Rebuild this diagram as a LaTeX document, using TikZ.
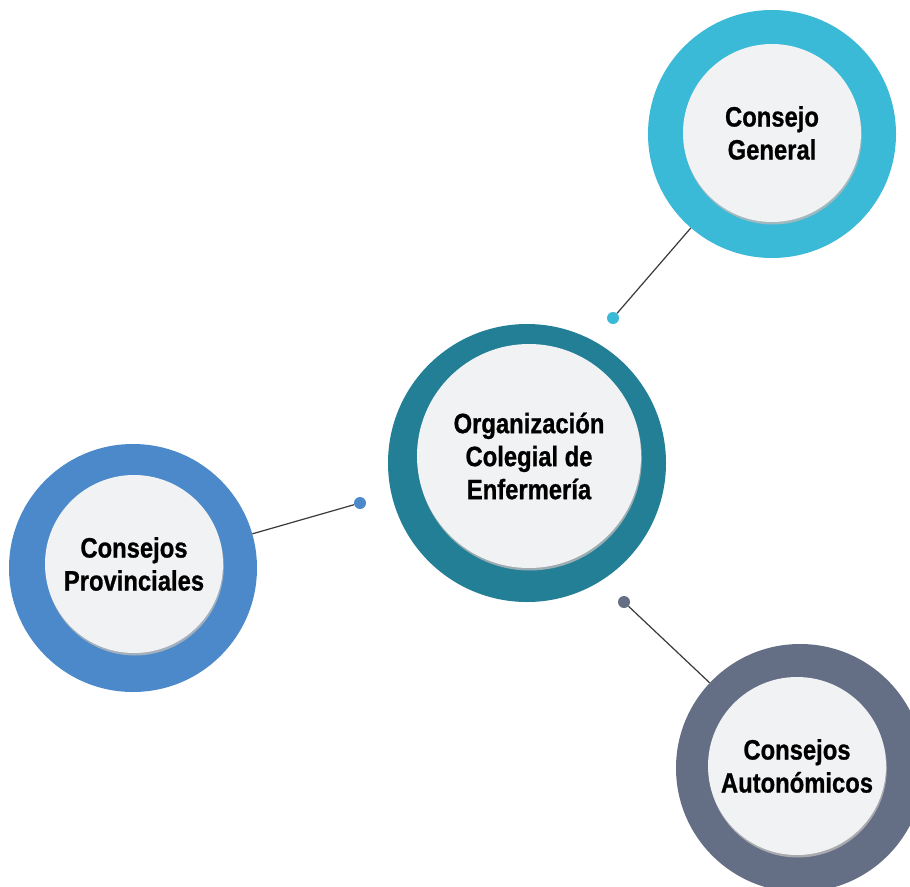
\documentclass[tikz,border=0pt]{standalone}
\usepackage{fontspec}
\setmainfont{Liberation Sans}[FakeStretch=0.85,BoldFeatures={FakeBold=0.8}]
\usetikzlibrary{shadows}
\definecolor{tealring}{HTML}{237F96}
\definecolor{skyring}{HTML}{3BBAD8}
\definecolor{bluering}{HTML}{4B89CA}
\definecolor{slatering}{HTML}{646E84}
\definecolor{coregray}{HTML}{F1F2F4}
\definecolor{linkgray}{HTML}{3A3A3A}

\begin{document}
\begin{tikzpicture}[x=1pt,y=-1pt,%line cap=round
  ring/.style={circle,minimum size=248pt,inner sep=0pt},
  core/.style={circle,fill=coregray,minimum size=178pt,inner sep=0pt,align=center,
    font=\fontsize{28}{33}\selectfont\bfseries,text=black,
    drop shadow={shadow xshift=0.8pt,shadow yshift=-2.5pt,opacity=0.8,fill=gray!55}},
  dot/.style={circle,minimum size=12pt,inner sep=0pt},
  link/.style={draw=linkgray,line width=1.2pt}]
\clip (0,0) rectangle (910,886);
\fill[white] (0,0) rectangle (910,886);
% rings
\node [ring,fill=tealring,minimum size=278pt] (org) at (527,463) {};
\node [ring,fill=skyring] (gen) at (772,134) {};
\node [ring,fill=bluering] (prov) at (133,568) {};
\node [ring,fill=slatering] (auto) at (800,768) {};
% dots
\node [dot,fill=skyring] (gendot) at (613,318) {};
\node [dot,fill=bluering] (provdot) at (360,503) {};
\node [dot,fill=slatering] (autodot) at (624,602) {};
% links
\draw [link] (gendot) -- (gen);
\draw [link] (provdot) -- (prov);
\draw [link] (autodot) -- (auto);
% centres
\node [core,minimum size=224pt] (orgcore) at (529,456) {Organización\\Colegial de\\Enfermería};
\node [core] (gencore) at (772,133) {Consejo\\General};
\node [core] (provcore) at (134,564) {Consejos\\Provinciales};
\node [core] (autocore) at (797,766) {Consejos\\Autonómicos};
\end{tikzpicture}
\end{document}
